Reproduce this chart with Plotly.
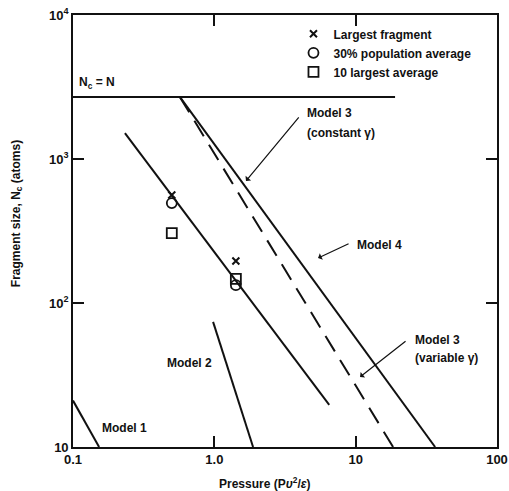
import plotly.graph_objects as go

# ---- data ----
nc_x = [0.1, 19.0]
nc_y = [2700, 2700]

model3_const_x = [0.57, 36.5]
model3_const_y = [2700, 10]

model3_var_x = [0.57, 18.4]
model3_var_y = [2700, 10]

fit_x = [0.233, 6.5]
fit_y = [1514, 19.6]

model2_x = [0.98, 1.88]
model2_y = [74, 10]

model1_x = [0.1, 0.153]
model1_y = [21, 10]

pressure = [0.5, 1.42]
largest_fragment = [562, 196]
pop30_average = [494, 133]
largest10_average = [306, 147]

x_tickvals = [0.1, 1, 10, 100]
x_ticktext = ["0.1", "1.0", "10", "100"]
y_tickvals = [10, 100, 1000, 10000]
y_ticktext = ["10", "10<sup>2</sup>", "10<sup>3</sup>", "10<sup>4</sup>"]

FONT = "Liberation Sans, Arial, sans-serif"
BLACK = "#111111"

fig = go.Figure()

for xs, ys, dash in [
    (nc_x, nc_y, "solid"),
    (model3_const_x, model3_const_y, "solid"),
    (model3_var_x, model3_var_y, "18px,10px"),
    (fit_x, fit_y, "solid"),
    (model2_x, model2_y, "solid"),
    (model1_x, model1_y, "solid"),
]:
    fig.add_trace(go.Scatter(x=xs, y=ys, mode="lines",
                             line=dict(color=BLACK, width=2, dash=dash),
                             showlegend=False, hoverinfo="skip"))

fig.add_trace(go.Scatter(x=pressure, y=largest_fragment, mode="markers",
                         name="Largest fragment",
                         marker=dict(symbol="x-thin", size=7,
                                     line=dict(color=BLACK, width=2))))
fig.add_trace(go.Scatter(x=pressure, y=pop30_average, mode="markers",
                         name="30% population average",
                         marker=dict(symbol="circle-open", size=10, color=BLACK,
                                     line=dict(color=BLACK, width=1.8))))
fig.add_trace(go.Scatter(x=pressure, y=largest10_average, mode="markers",
                         name="10 largest average",
                         marker=dict(symbol="square-open", size=10, color=BLACK,
                                     line=dict(color=BLACK, width=1.8))))

axis_common = dict(
    type="log", showgrid=False, zeroline=False, automargin=False,
    showline=True, linecolor=BLACK, linewidth=1.6, mirror="ticks",
    ticks="inside", ticklen=11, tickwidth=1.5, tickcolor=BLACK,
    tickfont=dict(family=FONT, size=13, color=BLACK, weight="bold"),
)

fig.update_xaxes(range=[-1, 2], tickvals=x_tickvals, ticktext=x_ticktext, **axis_common)
fig.update_yaxes(range=[1, 4], tickvals=y_tickvals, ticktext=y_ticktext, **axis_common)

def txt(text, x, y, xanchor="left", size=12, **kw):
    fig.add_annotation(text=text, x=x, y=y, xref="paper", yref="paper",
                       xanchor=xanchor, yanchor="middle", showarrow=False,
                       font=dict(family=FONT, size=size, color=BLACK, weight="bold"), **kw)

def arrow(x, y, ax, ay):
    fig.add_annotation(text="", x=x, y=y, xref="paper", yref="paper",
                       ax=ax, ay=ay, showarrow=True, arrowhead=1, arrowsize=1,
                       arrowwidth=1.2, arrowcolor=BLACK)

txt("N<sub>c</sub> = N", 0.009, 0.843)
txt("Model 3", 0.547, 0.773)
txt("(constant γ)", 0.547, 0.727)
arrow(0.408, 0.616, 54, -65)
txt("Model 4", 0.665, 0.4676)
arrow(0.578, 0.4375, 32, -15)
txt("Model 3", 0.802, 0.2477)
txt("(variable γ)", 0.802, 0.206)
arrow(0.677, 0.162, 47, -37)
txt("Model 2", 0.217, 0.194)
txt("Model 1", 0.064, 0.044)

txt("Pressure (P<i>υ</i><sup>2</sup>/<i>ε</i>)", 0.453, -0.083, xanchor="center")
txt("Fragment size, N<sub>c</sub> (atoms)", -0.132, 0.539, xanchor="center", textangle=-90)

fig.update_layout(
    width=509, height=491,
    margin=dict(l=73, r=12, t=15, b=44, autoexpand=False),
    paper_bgcolor="white", plot_bgcolor="white",
    font=dict(family=FONT, color=BLACK),
    legend=dict(x=0.52, y=0.99, xanchor="left", yanchor="top",
                bgcolor="rgba(0,0,0,0)", itemwidth=30, tracegroupgap=0,
                font=dict(family=FONT, size=12, color=BLACK, weight="bold")),
)

fig.write_html("out.html", config={"displayModeBar": False},
               post_script="document.body.style.margin='0';document.body.style.overflow='hidden';")
